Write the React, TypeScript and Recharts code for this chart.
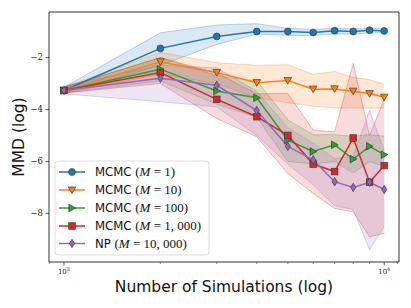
import React from 'react';
import { ComposedChart, Line, Area, XAxis, YAxis, ReferenceArea } from 'recharts';

const simulations = [1000, 2000, 3000, 4000, 5000, 6000, 7000, 8000, 9000, 10000];
const xTicks = [900, 1000, 2000, 3000, 4000, 5000, 6000, 7000, 8000, 9000, 10000, 11000];
const yTicks = [-8, -6, -4, -2];

const seriesNames = ['MCMC', 'MCMC', 'MCMC', 'MCMC', 'NP'];
const seriesM = ['1', '10', '100', '1, 000', '10, 000'];
const colors = ['#1f77b4', '#ff7f0e', '#2ca02c', '#d62728', '#9467bd'];
const shapes = ['circle', 'tridown', 'triright', 'square', 'diamond'];

const m1 = [-3.27, -1.65, -1.19, -1.0, -1.0, -1.04, -0.97, -1.0, -0.95, -0.98];
const m10 = [-3.27, -2.17, -2.58, -2.97, -2.89, -3.22, -3.21, -3.3, -3.39, -3.53];
const m100 = [-3.27, -2.45, -3.29, -3.55, -5.18, -5.62, -5.36, -5.91, -5.42, -5.74];
const m1000 = [-3.27, -2.58, -3.61, -4.28, -5.0, -6.1, -6.39, -5.1, -6.8, -6.16];
const np10000 = [-3.27, -2.8, -3.07, -4.04, -5.42, -5.94, -6.78, -7.0, -6.8, -7.08];

const m1Low = [-3.37, -2.3, -1.5, -1.1, -1.15, -1.15, -1.1, -1.1, -1.05, -1.05];
const m1High = [-3.15, -1.05, -0.75, -0.7, -0.88, -0.92, -0.88, -0.9, -0.88, -0.9];
const m10Low = [-3.37, -2.65, -3.0, -3.55, -3.74, -3.87, -3.94, -3.94, -3.95, -3.94];
const m10High = [-3.15, -1.8, -2.2, -2.3, -2.28, -2.65, -2.54, -2.77, -2.85, -3.03];
const m100Low = [-3.37, -2.9, -3.8, -4.3, -6.0, -6.1, -6.0, -6.45, -6.0, -6.2];
const m100High = [-3.15, -2.0, -2.7, -2.9, -4.4, -4.97, -4.97, -5.03, -4.97, -5.03];
const m1000Low = [-3.37, -3.0, -4.35, -5.05, -6.47, -7.23, -7.81, -7.94, -8.9, -8.77];
const m1000High = [-3.15, -2.0, -2.6, -3.4, -3.38, -4.8, -4.86, -2.23, -5.0, -3.6];
const npLow = [-3.4, -3.7, -3.9, -5.0, -6.1, -6.9, -7.7, -7.85, -9.4, -8.5];
const npHigh = [-3.1, -2.3, -2.4, -3.3, -4.7, -5.3, -5.9, -5.8, -4.05, -5.6];

const means = [m1, m10, m100, m1000, np10000];
const lows = [m1Low, m10Low, m100Low, m1000Low, npLow];
const highs = [m1High, m10High, m100High, m1000High, npHigh];

const data = simulations.map((x, i) => {
  const row: any = { x };
  means.forEach((s, k) => {
    row['m' + k] = s[i];
    row['b' + k] = [lows[k][i], highs[k][i]];
  });
  return row;
});

const X_DOMAIN: [number, number] = [898, 11120];
const Y_DOMAIN: [number, number] = [-9.87, -0.25];

function Marker({ shape, cx, cy, color }: any) {
  const stroke = '#3c3c3c';
  const sw = 0.7;
  if (cx == null || cy == null) return null;
  if (shape === 'circle') return <circle cx={cx} cy={cy} r={3.4} fill={color} stroke={stroke} strokeWidth={sw} />;
  if (shape === 'tridown')
    return <polygon points={`${cx - 3.8},${cy - 3.1} ${cx + 3.8},${cy - 3.1} ${cx},${cy + 3.6}`} fill={color} stroke={stroke} strokeWidth={sw} />;
  if (shape === 'triright')
    return <polygon points={`${cx - 3.1},${cy - 3.8} ${cx - 3.1},${cy + 3.8} ${cx + 3.6},${cy}`} fill={color} stroke={stroke} strokeWidth={sw} />;
  if (shape === 'square') return <rect x={cx - 3.3} y={cy - 3.3} width={6.6} height={6.6} fill={color} stroke={stroke} strokeWidth={sw} />;
  return <polygon points={`${cx},${cy - 4.2} ${cx + 2.6},${cy} ${cx},${cy + 4.2} ${cx - 2.6},${cy}`} fill={color} stroke={stroke} strokeWidth={sw} />;
}

function XTick(props: any) {
  const { x, y, payload } = props;
  const v = payload.value;
  const major = v === 1000 || v === 10000;
  return (
    <g>
      <line x1={x} x2={x} y1={y} y2={y + (major ? 3.5 : 2)} stroke="#333" strokeWidth={major ? 0.8 : 0.6} />
      {major && (
        <text x={x} y={y + 12} textAnchor="middle" fontFamily="'DejaVu Serif', serif" fontSize={7} fill="#222">
          10<tspan dy={-3} fontSize={5}>{v === 1000 ? '3' : '4'}</tspan>
        </text>
      )}
    </g>
  );
}

function YTick(props: any) {
  const { x, y, payload } = props;
  return (
    <text x={x} y={y + 3} textAnchor="end" fontFamily="'DejaVu Serif', serif" fontSize={8.5} fill="#222">
      {'\u2212' + Math.abs(payload.value)}
    </text>
  );
}

function LegendBox() {
  const left = 55;
  const top = 161;
  const rowY = [172, 190, 208, 226, 243.5];
  return (
    <g>
      <rect x={left} y={top} width={154} height={94} rx={3} fill="#fff" fillOpacity={0.8} stroke="#d4d4d4" strokeWidth={0.8} />
      {seriesNames.map((name, i) => (
        <g key={i}>
          <line x1={59} x2={85} y1={rowY[i]} y2={rowY[i]} stroke={colors[i]} strokeWidth={1.5} />
          <Marker shape={shapes[i]} cx={72} cy={rowY[i]} color={colors[i]} />
          <text x={95} y={rowY[i] + 4.3} fontSize={11.7} fontFamily="'DejaVu Sans', sans-serif" fill="#111">
            {name + ' '}
            <tspan fontFamily="'Liberation Serif', serif" fontSize={13}>(</tspan>
            <tspan fontFamily="'Liberation Serif', serif" fontSize={13} fontStyle="italic">M</tspan>
            <tspan fontFamily="'Liberation Serif', serif" fontSize={13}>{' = ' + seriesM[i] + ')'}</tspan>
          </text>
        </g>
      ))}
    </g>
  );
}

export default function App() {
  return (
    <div style={{ position: 'absolute', left: 0, top: 0, width: 411, height: 308, background: '#fff' }}>
      <ComposedChart width={411} height={308} data={data} margin={{ top: 12, right: 12, bottom: 0, left: 0 }}>
        <XAxis
          dataKey="x"
          type="number"
          scale="log"
          domain={X_DOMAIN}
          allowDataOverflow
          ticks={xTicks}
          interval={0}
          height={46}
          tickLine={false}
          tickSize={0}
          tickMargin={0}
          axisLine={false}
          tick={<XTick />}
        />
        <YAxis
          type="number"
          domain={Y_DOMAIN}
          allowDataOverflow
          ticks={yTicks}
          width={49}
          tickSize={3.5}
          tickMargin={2.5}
          tickLine={{ stroke: '#333', strokeWidth: 0.8 }}
          axisLine={false}
          tick={<YTick />}
        />
        {colors.map((c, k) => (
          <Area
            key={'band' + k}
            dataKey={'b' + k}
            type="linear"
            fill={c}
            fillOpacity={0.17}
            stroke={c}
            strokeOpacity={0.3}
            strokeWidth={1}
            isAnimationActive={false}
            activeDot={false}
            dot={false}
          />
        ))}
        {colors.map((c, k) => (
          <Line
            key={'line' + k}
            dataKey={'m' + k}
            type="linear"
            stroke={c}
            strokeWidth={1.5}
            isAnimationActive={false}
            activeDot={false}
            dot={(p: any) => <Marker key={'d' + k + '-' + p.index} shape={shapes[k]} cx={p.cx} cy={p.cy} color={c} />}
          />
        ))}
        <ReferenceArea
          x1={X_DOMAIN[0]}
          x2={X_DOMAIN[1]}
          y1={Y_DOMAIN[0]}
          y2={Y_DOMAIN[1]}
          fill="none"
          stroke="#333"
          strokeWidth={1}
          ifOverflow="visible"
        />
        <LegendBox />
        <text x={224} y={292} textAnchor="middle" fontSize={15.5} fontFamily="'DejaVu Sans', sans-serif" fill="#111">
          Number of Simulations (log)
        </text>
        <text x={24} y={137} textAnchor="middle" fontSize={15.5} fontFamily="'DejaVu Sans', sans-serif" fill="#111" transform="rotate(-90 24 137)">
          MMD (log)
        </text>
      </ComposedChart>
    </div>
  );
}
